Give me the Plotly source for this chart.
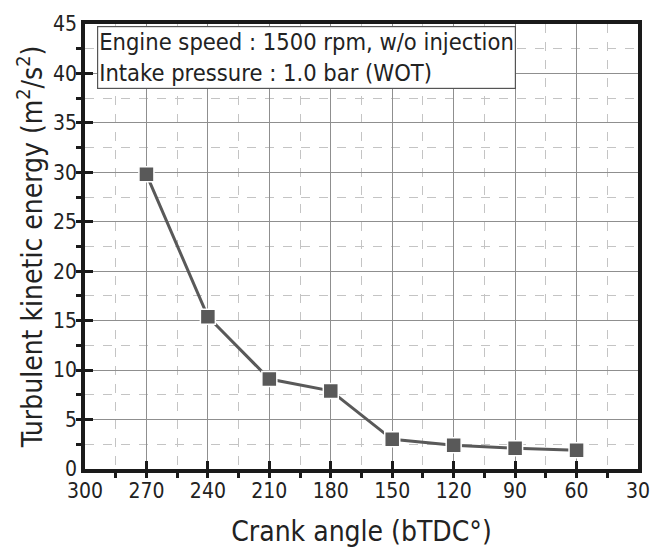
import plotly.graph_objects as go

crank_angle = [270, 240, 210, 180, 150, 120, 90, 60]
tke = [29.8, 15.4, 9.1, 7.9, 3.0, 2.4, 2.1, 1.9]
x_ticks = [300, 270, 240, 210, 180, 150, 120, 90, 60, 30]
y_ticks = [0, 5, 10, 15, 20, 25, 30, 35, 40, 45]

FONT = "DejaVu Sans Condensed, DejaVu Sans"
fig = go.Figure()
fig.add_trace(go.Scatter(
    x=crank_angle, y=tke, mode="lines+markers",
    line=dict(color="#595959", width=3),
    marker=dict(symbol="square", size=15, color="#595959",
                line=dict(color="white", width=1.5)),
    showlegend=False,
))

axis_common = dict(
    showline=True, linecolor="#1a1a1a", linewidth=3.5, mirror=True,
    ticks="inside", ticklen=8, tickwidth=3, tickcolor="#1a1a1a",
    showgrid=True, gridcolor="#8f8f8f", gridwidth=1.2,
    zeroline=False,
    tickfont=dict(family=FONT, size=21, color="#222"),
)

fig.update_xaxes(
    range=[300, 30], tickvals=x_ticks,
    minor=dict(dtick=15, ticklen=5, tickwidth=2.5, tickcolor="#1a1a1a",
               showgrid=True, gridcolor="#c4c4c4", griddash="dash", gridwidth=1),
    title=dict(text="Crank angle (bTDC°)", font=dict(family=FONT, size=28, color="#222"), standoff=20),
    **axis_common,
)
fig.update_yaxes(
    range=[0, 45], tickvals=y_ticks,
    minor=dict(dtick=2.5, ticklen=5, tickwidth=2.5, tickcolor="#1a1a1a",
               showgrid=True, gridcolor="#c4c4c4", griddash="dash", gridwidth=1),
    title=dict(text="Turbulent kinetic energy (m<sup>2</sup>/s<sup>2</sup>)",
               font=dict(family=FONT, size=28, color="#222"), standoff=3),
    **axis_common,
)

fig.add_annotation(
    xref="paper", yref="paper", x=0.021, y=0.995, xanchor="left", yanchor="top",
    text="Engine speed : 1500 rpm, w/o injection<br>Intake pressure : 1.0 bar (WOT)",
    showarrow=False, align="left",
    font=dict(family=FONT, size=23.5, color="#222"),
    bordercolor="#555", borderwidth=1.2, borderpad=1, bgcolor="white",
)

fig.update_layout(
    width=662, height=555,
    margin=dict(l=85, r=15, t=20, b=84),
    plot_bgcolor="white", paper_bgcolor="white",
)
fig.write_html("out.html")
